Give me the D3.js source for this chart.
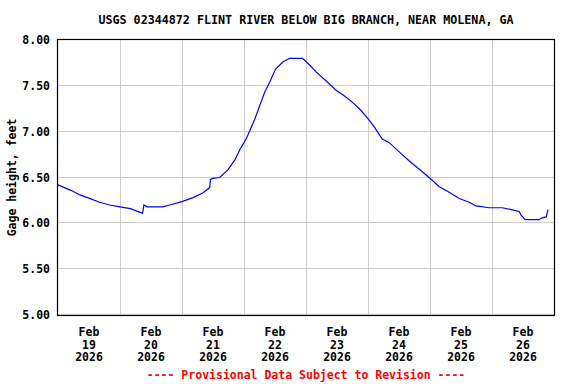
<!DOCTYPE html>
<html>
<head>
<meta charset="utf-8">
<script src="https://cdn.jsdelivr.net/npm/d3@7"></script>
<style>
  body { margin: 0; background: #fff; }
  text { font-family: "DejaVu Sans Mono", monospace; font-weight: bold; }
</style>
</head>
<body>
<svg width="576" height="384"></svg>
<script>
const width = 576;
const height = 384;
const margin = { top: 40, right: 22, bottom: 69, left: 58 };

const title = "USGS 02344872 FLINT RIVER BELOW BIG BRANCH, NEAR MOLENA, GA";
const yLabel = "Gage height, feet";
const footer = "---- Provisional Data Subject to Revision ----";

// gage height readings (time, feet)
const times = [
  "2026-02-19T00:00", "2026-02-19T05:00", "2026-02-19T08:30", "2026-02-19T12:30",
  "2026-02-19T16:00", "2026-02-19T20:00", "2026-02-20T00:00", "2026-02-20T04:00",
  "2026-02-20T07:45", "2026-02-20T08:45", "2026-02-20T09:15", "2026-02-20T10:30",
  "2026-02-20T16:30", "2026-02-20T19:15", "2026-02-21T00:15", "2026-02-21T04:15",
  "2026-02-21T08:00", "2026-02-21T10:45", "2026-02-21T11:00", "2026-02-21T11:55",
  "2026-02-21T14:35", "2026-02-21T17:40", "2026-02-21T20:25", "2026-02-21T22:20",
  "2026-02-22T01:00", "2026-02-22T04:05", "2026-02-22T08:00", "2026-02-22T09:55",
  "2026-02-22T12:10", "2026-02-22T15:00", "2026-02-22T17:40", "2026-02-22T22:40",
  "2026-02-23T01:20", "2026-02-23T04:00", "2026-02-23T07:55", "2026-02-23T11:45",
  "2026-02-23T14:55", "2026-02-23T18:00", "2026-02-23T20:40", "2026-02-23T23:45",
  "2026-02-24T02:30", "2026-02-24T05:30", "2026-02-24T08:15", "2026-02-24T12:05",
  "2026-02-24T16:00", "2026-02-24T19:50", "2026-02-24T23:40", "2026-02-25T03:35",
  "2026-02-25T07:25", "2026-02-25T11:20", "2026-02-25T15:10", "2026-02-25T17:50",
  "2026-02-25T22:55", "2026-02-26T03:55", "2026-02-26T07:25", "2026-02-26T10:30",
  "2026-02-26T11:15", "2026-02-26T12:50", "2026-02-26T18:10", "2026-02-26T19:25",
  "2026-02-26T21:00", "2026-02-26T21:40"
];
const heights = [
  6.42, 6.36, 6.31, 6.27,
  6.23, 6.20, 6.18, 6.16,
  6.12, 6.11, 6.20, 6.18,
  6.18, 6.20, 6.24, 6.28,
  6.33, 6.39, 6.48, 6.49,
  6.50, 6.58, 6.69, 6.80,
  6.93, 7.13, 7.43, 7.54,
  7.68, 7.76, 7.80, 7.80,
  7.73, 7.65, 7.55, 7.45,
  7.39, 7.32, 7.25, 7.15,
  7.05, 6.92, 6.88, 6.78,
  6.68, 6.59, 6.50, 6.40,
  6.34, 6.27, 6.23, 6.19,
  6.17, 6.17, 6.15, 6.13,
  6.09, 6.04, 6.04, 6.06,
  6.07, 6.15
];

const yTicks = [5.0, 5.5, 6.0, 6.5, 7.0, 7.5, 8.0];
const dayTicks = ["2026-02-19", "2026-02-20", "2026-02-21", "2026-02-22",
                  "2026-02-23", "2026-02-24", "2026-02-25", "2026-02-26"];
const xStart = "2026-02-19T00:00";
const xEnd = "2026-02-27T00:00";

const parse = d3.timeParse("%Y-%m-%dT%H:%M");
const parseDay = d3.timeParse("%Y-%m-%d");
const data = times.map((t, i) => ({ t: parse(t), v: heights[i] }));

const x = d3.scaleTime()
  .domain([parse(xStart), parse(xEnd)])
  .range([margin.left, width - margin.right]);
const y = d3.scaleLinear()
  .domain([5, 8])
  .range([height - margin.bottom, margin.top]);

const svg = d3.select("svg");

// grid
svg.append("g")
  .selectAll("line.h")
  .data(yTicks)
  .join("line")
  .attr("x1", margin.left).attr("x2", width - margin.right)
  .attr("y1", d => Math.round(y(d)) - 0.5).attr("y2", d => Math.round(y(d)) - 0.5)
  .attr("stroke", "#cccccc");

const midnights = d3.timeDay.range(d3.timeDay.offset(parse(xStart), 1), parse(xEnd));
svg.append("g")
  .selectAll("line.v")
  .data(midnights)
  .join("line")
  .attr("x1", d => Math.round(x(d)) + 0.5).attr("x2", d => Math.round(x(d)) + 0.5)
  .attr("y1", margin.top).attr("y2", height - margin.bottom)
  .attr("stroke", "#cccccc");

// data line
svg.append("path")
  .datum(data)
  .attr("fill", "none")
  .attr("stroke", "#0000ff")
  .attr("stroke-width", 1.2)
  .attr("d", d3.line().x(d => x(d.t)).y(d => y(d.v)));

// frame
svg.append("rect")
  .attr("x", margin.left - 0.5)
  .attr("y", margin.top - 0.5)
  .attr("width", width - margin.left - margin.right + 1)
  .attr("height", height - margin.top - margin.bottom + 1)
  .attr("fill", "none")
  .attr("stroke", "#000")
  .attr("stroke-width", 1.2);

// y tick labels
svg.append("g")
  .selectAll("text")
  .data(yTicks)
  .join("text")
  .attr("x", 50)
  .attr("y", d => y(d) + 4)
  .attr("text-anchor", "end")
  .attr("font-size", 11.5)
  .text(d3.format(".2f"));

// x tick labels (centered at noon)
const fmts = [d3.timeFormat("%b"), d3.timeFormat("%d"), d3.timeFormat("%Y")];
const xl = svg.append("g")
  .selectAll("text")
  .data(dayTicks.map(parseDay))
  .join("text")
  .attr("text-anchor", "middle")
  .attr("font-size", 11.5)
  .attr("transform", d => `translate(${x(d3.timeHour.offset(d, 12))},0)`);
xl.each(function (d) {
  const t = d3.select(this);
  fmts.forEach((f, i) => {
    t.append("tspan").attr("x", 0).attr("y", 336 + i * 12.5).text(f(d));
  });
});

// title
svg.append("text")
  .attr("x", (margin.left + width - margin.right) / 2)
  .attr("y", 24)
  .attr("text-anchor", "middle")
  .attr("font-size", 11.7)
  .text(title);

// y axis label
svg.append("text")
  .attr("transform", `translate(16,${(margin.top + height - margin.bottom) / 2}) rotate(-90)`)
  .attr("text-anchor", "middle")
  .attr("font-size", 11.5)
  .text(yLabel);

// footer
svg.append("text")
  .attr("x", (margin.left + width - margin.right) / 2)
  .attr("y", 379)
  .attr("text-anchor", "middle")
  .attr("font-size", 11.5)
  .attr("fill", "#ff0000")
  .text(footer);
</script>
</body>
</html>
